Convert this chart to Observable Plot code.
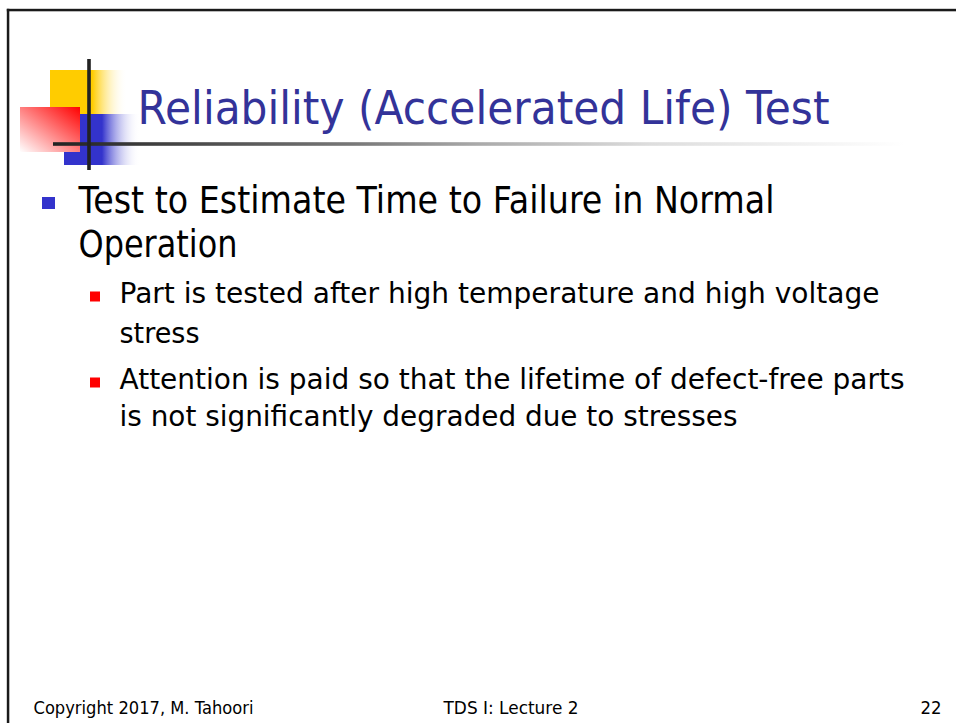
<!DOCTYPE html>
<html>
<head>
<meta charset="utf-8">
<script src="https://cdn.jsdelivr.net/npm/d3@7"></script>
<script src="https://cdn.jsdelivr.net/npm/@observablehq/plot@0.6"></script>
<style>
  html, body { margin: 0; padding: 0; background: #ffffff; overflow: hidden; }
  #chart svg { display: block; }
</style>
</head>
<body>
<div id="chart"></div>
<script>
// ---- Content (text of the slide) ----
const titleText = ["Reliability (Accelerated Life) Test"];
const level1Lines = ["Test to Estimate Time to Failure in Normal", "Operation"];
const level2Lines = [
  "Part is tested after high temperature and high voltage",
  "stress",
  "Attention is paid so that the lifetime of defect-free parts",
  "is not significantly degraded due to stresses"
];
const footerLeftLabels = ["Copyright 2017, M. Tahoori", "TDS I: Lecture 2"];
const footerPageLabel = ["22"];

// ---- Layout (pixel positions on the 956x723 slide) ----
const level1Baselines = [212, 256];
const level2Baselines = [302, 342, 388, 425];
const level1BulletRows = [0];      // index of lines that carry a bullet
const level2BulletRows = [0, 2];
const footerLeftX = [33, 443];
const footerPageX = 941;
const textWidths = new Map([
  ["Reliability (Accelerated Life) Test", 692],
  ["Test to Estimate Time to Failure in Normal", 696],
  ["Operation", 159],
  ["Part is tested after high temperature and high voltage", 760],
  ["stress", 80],
  ["Attention is paid so that the lifetime of defect-free parts", 785],
  ["is not significantly degraded due to stresses", 618],
  ["Copyright 2017, M. Tahoori", 220],
  ["TDS I: Lecture 2", 135],
  ["22", 21]
]);

const box = (x1, x2, y1, y2, fill) =>
  Plot.rect([{x1, x2, y1, y2}], {x1: "x1", x2: "x2", y1: "y1", y2: "y2", fill});

const font = "DejaVu Sans, Verdana, sans-serif";

const svg = Plot.plot({
  width: 956,
  height: 723,
  margin: 0,
  style: {background: "#ffffff"},
  x: {domain: [0, 956], range: [0, 956], axis: null},
  y: {domain: [0, 723], range: [0, 723], axis: null},
  marks: [
    // slide frame
    box(6.8, 956, 8.8, 11.3, "#1a1a1a"),
    box(6.8, 9.3, 8.8, 723, "#1a1a1a"),
    // logo
    box(50, 127, 70, 114, "url(#gYellow)"),
    box(64, 140, 114, 165, "url(#gBlue)"),
    box(20, 80, 107, 152, "url(#gRed)"),
    box(53, 905, 142.2, 145.8, "url(#gLine)"),
    box(87.2, 90.8, 59, 170, "#222222"),
    // title
    Plot.text(titleText, {
      x: () => 137, y: () => 123, text: d => d,
      textAnchor: "start", lineAnchor: "bottom",
      fontSize: 47, fontFamily: font, fill: "#333399"
    }),
    // level-1 bullets and text
    Plot.rect(level1BulletRows, {
      x1: () => 42, x2: () => 55,
      y1: i => level1Baselines[i] - 15, y2: i => level1Baselines[i] - 3,
      fill: "#3333cc"
    }),
    Plot.text(level1Lines, {
      x: () => 78, y: (d, i) => level1Baselines[i], text: d => d,
      textAnchor: "start", lineAnchor: "bottom",
      fontSize: 37, fontFamily: font, fill: "#000000"
    }),
    // level-2 bullets and text
    Plot.rect(level2BulletRows, {
      x1: () => 90, x2: () => 100,
      y1: i => level2Baselines[i] - 10.5, y2: i => level2Baselines[i] - 0.5,
      fill: "#ff0000"
    }),
    Plot.text(level2Lines, {
      x: () => 119, y: (d, i) => level2Baselines[i], text: d => d,
      textAnchor: "start", lineAnchor: "bottom",
      fontSize: 28.5, fontFamily: font, fill: "#000000"
    }),
    // footer
    Plot.text(footerLeftLabels, {
      x: (d, i) => footerLeftX[i], y: () => 713, text: d => d,
      textAnchor: "start", lineAnchor: "bottom",
      fontSize: 17, fontFamily: font, fill: "#000000"
    }),
    Plot.text(footerPageLabel, {
      x: () => footerPageX, y: () => 713, text: d => d,
      textAnchor: "end", lineAnchor: "bottom",
      fontSize: 17, fontFamily: font, fill: "#000000"
    })
  ]
});

// gradients used by the logo shapes
const defs = d3.select(svg).insert("defs", ":first-child");
function linGrad(id, attrs, stops) {
  const g = defs.append("linearGradient").attr("id", id);
  Object.entries(attrs).forEach(([k, v]) => g.attr(k, v));
  stops.forEach(([o, c, op]) => g.append("stop").attr("offset", o).attr("stop-color", c).attr("stop-opacity", op ?? 1));
}
linGrad("gYellow", {x1: 0, y1: 0, x2: 1, y2: 0}, [[0, "#ffcc00"], [0.55, "#ffcc00"], [1, "#ffffff", 0]]);
linGrad("gBlue", {x1: 0, y1: 0, x2: 1, y2: 0}, [[0, "#3333cc"], [0.5, "#3333cc"], [1, "#ffffff", 0]]);
linGrad("gRed", {x1: 1, y1: 0, x2: 0, y2: 1}, [[0, "#ff0000"], [1, "#ffffff"]]);
linGrad("gLine", {x1: 0, y1: 0, x2: 1, y2: 0}, [[0, "#222222"], [0.35, "#777777"], [0.5, "#aaaaaa"], [0.7, "#dddddd"], [1, "#ffffff"]]);

document.getElementById("chart").append(svg);

// fit each text line to the width it occupies on the slide
d3.select(svg).selectAll("text").each(function () {
  const w = textWidths.get(this.textContent);
  if (w) {
    this.setAttribute("textLength", w);
    this.setAttribute("lengthAdjust", "spacingAndGlyphs");
  }
});
</script>
</body>
</html>
